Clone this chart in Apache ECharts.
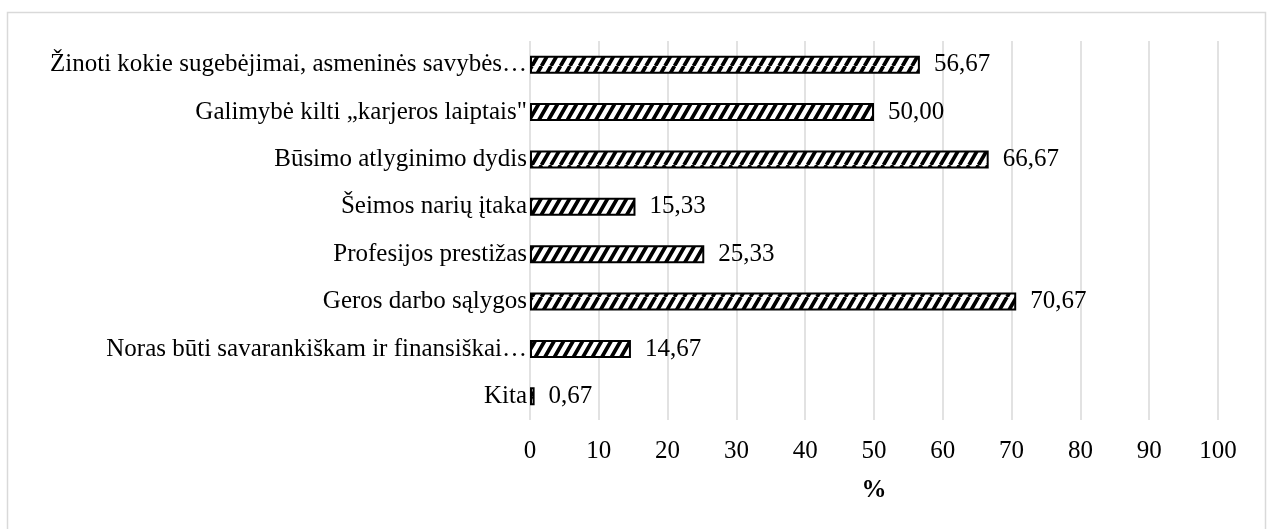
<!DOCTYPE html>
<html>
<head>
<meta charset="utf-8">
<script src="https://cdn.jsdelivr.net/npm/echarts@6/dist/echarts.min.js"></script>
<style>
  html, body { margin: 0; padding: 0; background: #fff; }
  #chart { width: 1272px; height: 529px; }
</style>
</head>
<body>
<div id="chart"></div>
<script>
// categories from bottom to top (as the y axis draws them)
const categories = [
  'Kita',
  'Noras būti savarankiškam ir finansiškai…',
  'Geros darbo sąlygos',
  'Profesijos prestižas',
  'Šeimos narių įtaka',
  'Būsimo atlyginimo dydis',
  'Galimybė kilti „karjeros laiptais"',
  'Žinoti kokie sugebėjimai, asmeninės savybės…'
];
const values = [0.67, 14.67, 70.67, 25.33, 15.33, 66.67, 50.00, 56.67];

const FONT = '"Liberation Serif", "DejaVu Serif", serif';

// wide upward diagonal hatch (stripe every 9.5px, ~60deg)
function makeHatch() {
  const w = 19, h = 33, step = 9.5;
  const c = document.createElement('canvas');
  c.width = w;
  c.height = h;
  const ctx = c.getContext('2d');
  ctx.fillStyle = '#fff';
  ctx.fillRect(0, 0, w, h);
  ctx.strokeStyle = '#000';
  ctx.lineWidth = 3.7;
  ctx.beginPath();
  for (let k = -4; k <= 3; k++) {
    ctx.moveTo(k * step, h);
    ctx.lineTo(k * step + w, 0);
  }
  ctx.stroke();
  return c;
}

const chart = echarts.init(document.getElementById('chart'));
chart.setOption({
  animation: false,
  textStyle: { fontFamily: FONT },
  graphic: [{
    type: 'rect',
    shape: { x: 7.5, y: 12.5, width: 1258, height: 530 },
    style: { fill: 'none', stroke: '#d9d9d9', lineWidth: 1.5 },
    silent: true
  }],
  grid: { left: 530, right: 54, top: 41, bottom: 109, containLabel: false },
  xAxis: {
    type: 'value',
    min: 0,
    max: 100,
    interval: 10,
    name: '%',
    nameLocation: 'middle',
    nameGap: 58,
    nameTextStyle: { fontFamily: FONT, fontSize: 25, fontWeight: 'bold', color: '#000' },
    axisLine: { show: false },
    axisTick: { show: false },
    axisLabel: { fontFamily: FONT, fontSize: 25, color: '#000', margin: 19 },
    splitLine: { lineStyle: { color: '#d9d9d9', width: 1.5 } }
  },
  yAxis: {
    type: 'category',
    data: categories,
    axisLine: { show: false },
    axisTick: { show: false },
    axisLabel: { fontFamily: FONT, fontSize: 25, color: '#000', margin: 3 }
  },
  series: [{
    type: 'bar',
    data: values,
    barWidth: 18,
    itemStyle: {
      color: { image: makeHatch(), repeat: 'repeat' },
      borderColor: '#000',
      borderWidth: 2
    },
    label: {
      show: true,
      position: 'right',
      distance: 14,
      fontFamily: FONT,
      fontSize: 25,
      color: '#000',
      formatter: p => p.value.toFixed(2).replace('.', ',')
    }
  }]
});
</script>
</body>
</html>
